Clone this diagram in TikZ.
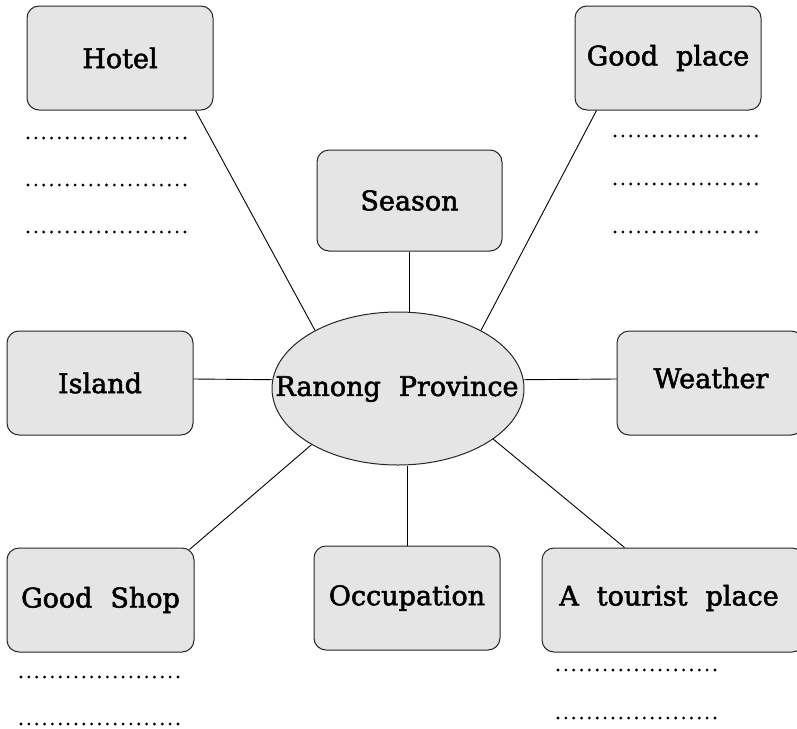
\documentclass[tikz,border=0pt]{standalone}
\usepackage{fontspec}
\setmainfont{DejaVu Serif}
\newfontfamily\labfont[FakeBold=2]{DejaVu Serif}
\usetikzlibrary{shapes.geometric}
\begin{document}
\begin{tikzpicture}[x=1pt,y=-1pt,
  every node/.style={font=\labfont\fontsize{27}{30}\selectfont, inner sep=0pt},
  topic/.style={draw=black!85, line width=1pt, fill=black!10, rounded corners=12pt, minimum width=186pt, minimum height=104pt},
  hub/.style={draw=black!85, line width=1pt, fill=black!10, ellipse, minimum width=252pt, minimum height=153pt},
  link/.style={line width=0.9pt},
  blank/.style={line width=3.1pt, line cap=round, dash pattern=on 0pt off 7.85pt}]
\useasboundingbox (0,0) rectangle (797,728);
\begin{scope}
\clip (0,0) rectangle (797,728);
\node[hub] (ell) at (398,388.5) {};
\node (hubtext) at (397,389) {Ranong\hspace{0.35em} Province};
\node[topic] (hotel) at (120,58) {Hotel};
\node[topic] (goodplace) at (668,58) {Good\hspace{0.35em} place};
\node[topic, minimum width=185pt, minimum height=101pt] (season) at (409.5,200.5) {Season};
\node[topic, minimum width=186pt] (island) at (100,383) {Island};
\node[topic, minimum width=186pt] (weather) at (710,383) {};
\node (weathertext) at (711,378) {Weather};
\node[topic, minimum width=187pt] (goodshop) at (100.5,600) {Good\hspace{0.35em} Shop};
\node[topic] (occupation) at (407,598) {Occupation};
\node[topic, minimum width=262pt] (tourist) at (673,600) {};
\node (touristtext) at (669,598) {A\hspace{0.35em} tourist\hspace{0.35em} place};

\draw[link] ([xshift=-18pt]hotel.south east) -- (ell.145);
\draw[link] ([xshift=22pt]goodplace.south west) -- (ell.35);
\draw[link] (season.south) -- (season.south |- ell.north);
\draw[link] ([yshift=4pt]island.east) -- (ell.176);
\draw[link] ([yshift=4pt]weather.west) -- (ell.4);
\draw[link] ([xshift=-5pt,yshift=-2pt]goodshop.north east) -- (ell.213);
\draw[link] (occupation.north) -- (occupation.north |- ell.south);
\draw[link] ([xshift=83pt]tourist.north west) -- (ell.332);

\foreach \y in {138,185,232} \draw[blank] (28,\y) -- (186,\y);
\foreach \y in {136,184,232} \draw[blank] (615,\y) -- (761,\y);
\foreach \y in {677,724} \draw[blank] (21,\y) -- (179,\y);
\foreach \y in {670,718} \draw[blank] (558,\y) -- (716,\y);
\end{scope}
\end{tikzpicture}
\end{document}
